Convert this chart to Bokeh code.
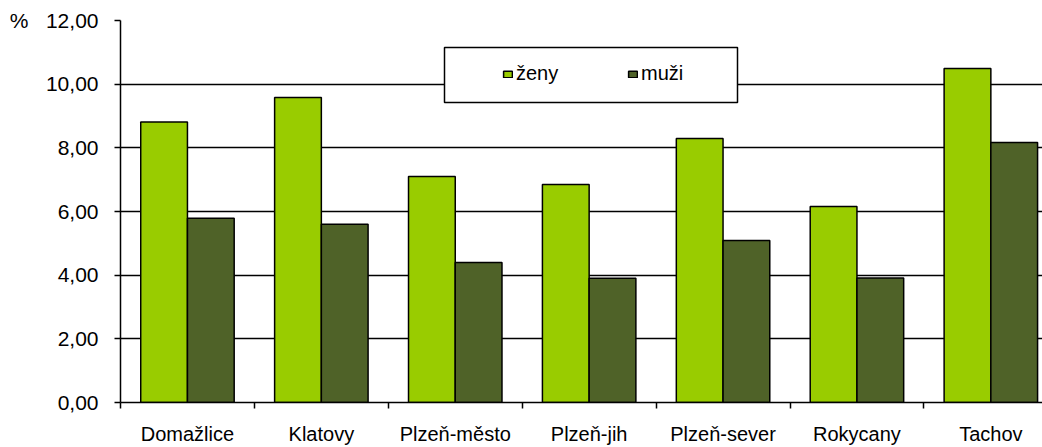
from bokeh.plotting import figure
from bokeh.models import (Range1d, FixedTicker, Legend, LegendItem, BoxAnnotation,
                          LinearAxis, ColumnDataSource)
from bokeh.transform import dodge
from bokeh.embed import file_html
from bokeh.resources import INLINE

# ---- data ----
districts = ["Domažlice", "Klatovy", "Plzeň-město", "Plzeň-jih",
             "Plzeň-sever", "Rokycany", "Tachov"]
zeny = [8.81, 9.58, 7.10, 6.85, 8.29, 6.16, 10.49]
muzi = [5.79, 5.60, 4.40, 3.90, 5.09, 3.91, 8.17]
series_names = ["ženy", "muži"]
y_ticks = [0, 2, 4, 6, 8, 10, 12]
y_tick_labels = ["0,00", "2,00", "4,00", "6,00", "8,00", "10,00", "12,00"]
unit_label = "%"

# ---- styles ----
colors = ["#99CC00", "#4F6228"]
FONT = "Liberation Sans"
n = len(districts)
centers = [i + 0.5 for i in range(n)]
bar_w = 0.349
cat_px = 133.9
visible_cats = 922 / cat_px  # plot area is cut at the right edge

src = ColumnDataSource(dict(x=centers, zeny=zeny, muzi=muzi))

p = figure(width=1042, height=447,
           x_range=Range1d(0, visible_cats), y_range=Range1d(0, 12),
           output_backend="svg", toolbar_location=None,
           min_border_left=120, min_border_right=0,
           min_border_top=20, min_border_bottom=45)
p.outline_line_color = None
p.background_fill_color = "white"
p.border_fill_color = "white"

r1 = p.vbar(x=dodge("x", -bar_w / 2, range=p.x_range), top="zeny", width=bar_w,
            source=src, fill_color=colors[0], line_color="black", line_width=1.5)
r2 = p.vbar(x=dodge("x", bar_w / 2, range=p.x_range), top="muzi", width=bar_w,
            source=src, fill_color=colors[1], line_color="black", line_width=1.5)

# x axis: category labels at centers, ticks at boundaries
xa = p.xaxis[0]
xa.ticker = FixedTicker(ticks=centers, minor_ticks=list(range(n + 1)))
xa.major_label_overrides = {c: d for c, d in zip(centers, districts)}
xa.major_tick_out = 0
xa.major_tick_in = 0
xa.minor_tick_out = 6
xa.minor_tick_in = 0
xa.minor_tick_line_color = "black"
xa.minor_tick_line_width = 1.5
xa.axis_line_color = "black"
xa.axis_line_width = 1.5
xa.major_label_standoff = 14
xa.major_label_text_font = FONT
xa.major_label_text_font_size = "20px"
xa.major_label_text_color = "black"

# y axis
ya = p.yaxis[0]
ya.ticker = FixedTicker(ticks=y_ticks, minor_ticks=[])
ya.major_label_overrides = dict(zip(y_ticks, y_tick_labels))
ya.major_tick_out = 6
ya.major_tick_in = 0
ya.major_tick_line_color = "black"
ya.major_tick_line_width = 1.5
ya.axis_line_color = "black"
ya.axis_line_width = 1.5
ya.major_label_standoff = 16
ya.major_label_text_font = FONT
ya.major_label_text_font_size = "21px"
ya.major_label_text_color = "black"

# unit label "%" as an outer left axis with a single label at the top tick
ua = LinearAxis(ticker=FixedTicker(ticks=[y_ticks[-1]], minor_ticks=[]),
                major_label_overrides={y_ticks[-1]: unit_label},
                axis_line_color=None, major_tick_line_color=None,
                minor_tick_line_color=None, major_tick_out=0, major_tick_in=0,
                major_label_standoff=14,
                major_label_text_font=FONT, major_label_text_font_size="21px",
                major_label_text_color="black")
p.add_layout(ua, "left")

p.xgrid.visible = False
p.ygrid.ticker = FixedTicker(ticks=y_ticks)
p.ygrid.grid_line_color = "black"
p.ygrid.grid_line_width = 1.5

# legend box
box = BoxAnnotation(left=324, right=617, bottom=300, top=355,
                    left_units="screen", right_units="screen",
                    bottom_units="screen", top_units="screen",
                    fill_color="white", fill_alpha=1.0,
                    line_color="black", line_width=1.5, line_alpha=1.0)
p.add_layout(box)

legend = Legend(items=[LegendItem(label=series_names[0], renderers=[r1]),
                       LegendItem(label=series_names[1], renderers=[r2])],
                orientation="horizontal", location=(382, 317),
                padding=0, margin=0, spacing=61,
                glyph_width=11, glyph_height=8, label_standoff=3, label_width=50,
                label_text_font=FONT, label_text_font_size="20px",
                label_text_color="black",
                background_fill_alpha=0, border_line_color=None)
p.add_layout(legend)

open("out.html", "w").write(file_html(p, INLINE))
